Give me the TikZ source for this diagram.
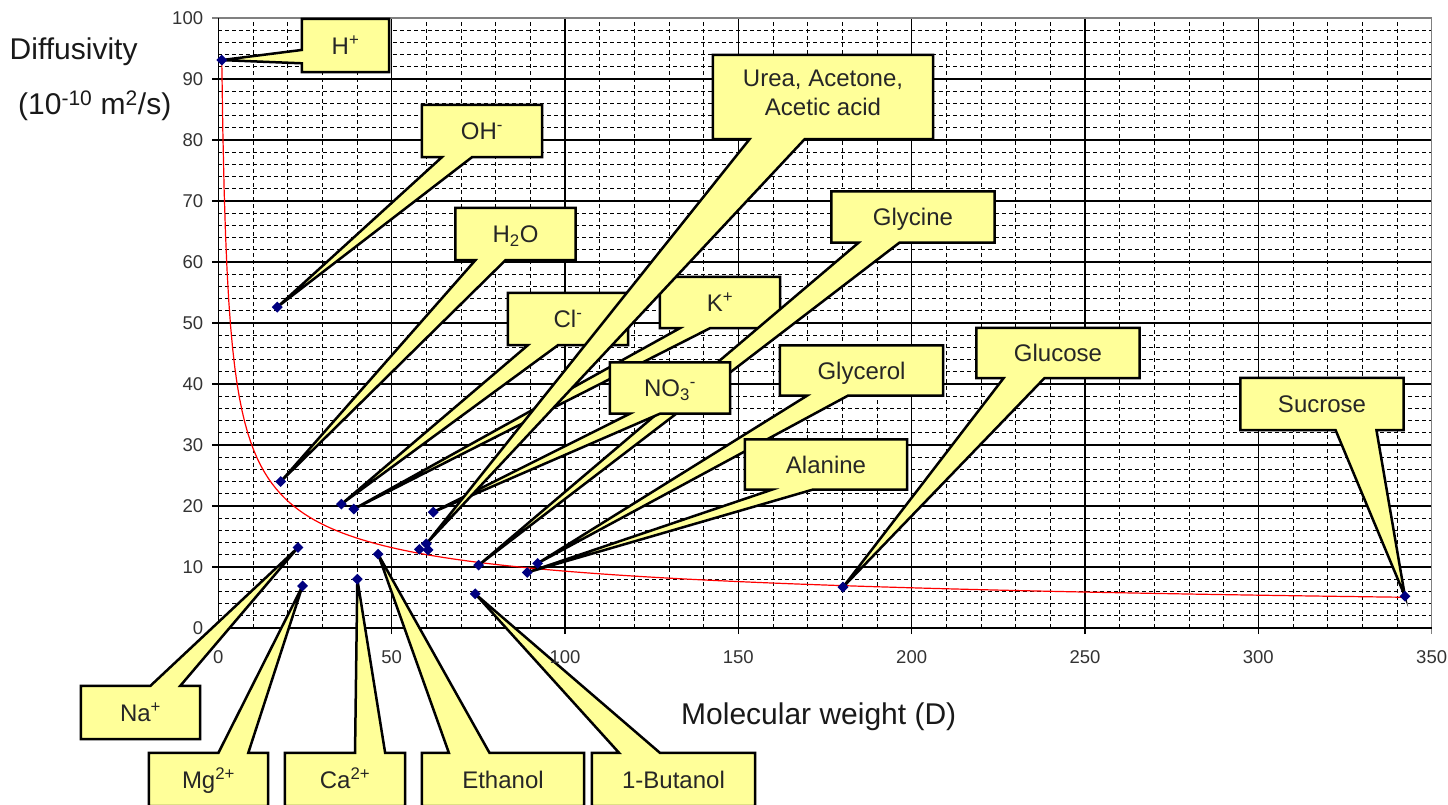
\documentclass[tikz,border=0pt]{standalone}
\usepackage{fontspec}
\setmainfont{Liberation Sans}
\usetikzlibrary{shapes,calc}

\definecolor{calloutyellow}{RGB}{255,255,153}
\definecolor{markerblue}{RGB}{0,0,128}
\definecolor{framegrey}{RGB}{128,128,128}

\pgfdeclarelayer{gridlayer}
\pgfdeclarelayer{boxlayer}
\pgfsetlayers{gridlayer,boxlayer,main}

\tikzstyle{major} = [black, line width=1.2pt]
\tikzstyle{minor} = [black, line width=0.9pt, dash pattern=on 4pt off 3pt]
\tikzstyle{frame} = [framegrey, line width=1.2pt]
\tikzstyle{curve} = [red, line width=1.2pt]
\tikzstyle{marker} = [diamond, fill=markerblue, inner sep=0pt, minimum size=11pt]
\tikzstyle{ticklabel} = [inner sep=0pt, text=black!80, font=\fontsize{18.5}{22}\selectfont]
\tikzstyle{axistitle} = [inner sep=0pt, text=black!90, font=\fontsize{30}{36}\selectfont]
\tikzstyle{boxtext} = [inner sep=0pt, minimum width=120pt, minimum height=52pt, text height=17.2pt, text depth=0pt, text=black!85, font=\fontsize{24}{29}\selectfont]
\tikzstyle{wedgebox} = [draw=black, fill=calloutyellow, line width=2.5pt, line join=miter]

% box, first corner, second corner, tip, start of the wedge base
\newcommand{\wedgecallout}[5]{%
  \draw[wedgebox] (#1.#2) -- ($(#1.#2)!#5!(#1.#3)$) -- (#4)
    -- ($(#1.#2)!#5+0.25!(#1.#3)$) -- (#1.#3)
    -- ($(#1.#2)!2!(#1.center)$) -- ($(#1.#3)!2!(#1.center)$) -- cycle;}

\begin{document}
\begin{tikzpicture}[x=1pt, y=-1pt]
\useasboundingbox (0,0) rectangle (1448,805);

% plot area in data units
\begin{scope}[shift={(218.3,628)}, x=3.4667pt, y=6.1pt]
  \begin{pgfonlayer}{gridlayer}
    \foreach \y in {2,4,...,98} \draw[minor] (0,\y) -- (350,\y);
    \foreach \x in {10,20,...,340} \draw[minor] (\x,0) -- (\x,100);
    \foreach \y in {10,20,...,90} \draw[major] ([xshift=-6pt]0,\y) -- (350,\y);
    \foreach \x in {50,100,...,300} \draw[major] ([yshift=-6pt]\x,0) -- (\x,100);
    \draw[frame] ([xshift=-6pt]0,100) -- (350,100) -- ([yshift=-6pt]350,0);
    \draw[major] ([xshift=-6pt]0,0) -- (350,0);
    \draw[major] ([yshift=-6pt]0,0) -- (0,100);
    \draw[curve] plot[domain=1:18.5, samples=120] ({\x*\x}, {93.2/\x});
  \end{pgfonlayer}

  \foreach \y in {0,10,...,100} \node[ticklabel, anchor=east, xshift=-15pt] at (0,\y) {\y};
  \foreach \x in {0,50,...,350} \node[ticklabel, anchor=north, yshift=-22pt] at (\x,0) {\x};

  \coordinate (ptH) at (1,93.1);
  \coordinate (ptOH) at (17,52.6);
  \coordinate (ptWater) at (18,24);
  \coordinate (ptNa) at (23,13.2);
  \coordinate (ptMg) at (24.3,6.9);
  \coordinate (ptCl) at (35.5,20.3);
  \coordinate (ptK) at (39.1,19.5);
  \coordinate (ptCa) at (40.1,8);
  \coordinate (ptEthanol) at (46.1,12.1);
  \coordinate (ptAcetone) at (58,12.9);
  \coordinate (ptUrea) at (60,13.8);
  \coordinate (ptAcetic) at (60.5,12.8);
  \coordinate (ptNO3) at (62,19);
  \coordinate (ptButanol) at (74.1,5.6);
  \coordinate (ptGlycine) at (75.1,10.3);
  \coordinate (ptAlanine) at (89.1,9.1);
  \coordinate (ptGlycerol) at (92.1,10.6);
  \coordinate (ptGlucose) at (180.2,6.7);
  \coordinate (ptSucrose) at (342.3,5.2);
  \foreach \p in {ptH,ptOH,ptWater,ptNa,ptMg,ptCl,ptK,ptCa,ptEthanol,ptAcetone,ptUrea,ptAcetic,ptNO3,ptButanol,ptGlycine,ptAlanine,ptGlycerol,ptGlucose,ptSucrose}
    \node[marker] at (\p) {};
\end{scope}

% axis titles
\node[axistitle, anchor=base west] (ytitle) at (9.5,60) {Diffusivity};
\node[axistitle, anchor=base west] (yunit) at (18,115) {(10\textsuperscript{-10} m\textsuperscript{2}/s)};
\node[axistitle, anchor=base west] (xtitle) at (681,724) {Molecular weight (D)};

% callout texts
\node[boxtext, minimum width=87pt, minimum height=53pt] (hplus) at (345.5,45.5) {H\textsuperscript{+}};
\node[boxtext] (ohminus) at (482,131) {OH\textsuperscript{-}};
\node[boxtext] (water) at (515.5,234) {H\textsubscript{2}O};
\node[boxtext] (clminus) at (568,319) {Cl\textsuperscript{-}};
\node[boxtext, minimum height=51pt] (kplus) at (720,302.5) {K\textsuperscript{+}};
\node[boxtext, minimum height=51pt] (nitrate) at (670,388) {NO\textsubscript{3}\textsuperscript{-}};
\node[boxtext, minimum width=220pt, minimum height=84pt, align=center, text height=46.2pt, text depth=8.6pt] (urea) at (823,97) {Urea, Acetone,\\Acetic acid};
\node[boxtext, minimum width=163pt, minimum height=51pt] (glycine) at (913,217) {Glycine};
\node[boxtext, minimum width=163pt, minimum height=50pt] (glycerol) at (861.5,370.5) {Glycerol};
\node[boxtext, minimum width=162pt, minimum height=50pt] (alanine) at (826,464.5) {Alanine};
\node[boxtext, minimum width=163pt, minimum height=50pt] (glucose) at (1058,353) {Glucose};
\node[boxtext, minimum width=163pt] (sucrose) at (1322,404) {Sucrose};
\node[boxtext, minimum width=119pt, minimum height=53pt] (naplus) at (140.5,712.5) {Na\textsuperscript{+}};
\node[boxtext, minimum width=119pt, minimum height=53pt] (mgion) at (208.5,779.5) {Mg\textsuperscript{2+}};
\node[boxtext, minimum height=53pt] (caion) at (345,779.5) {Ca\textsuperscript{2+}};
\node[boxtext, minimum width=162pt, minimum height=53pt] (ethanol) at (503,779.5) {Ethanol};
\node[boxtext, minimum width=163pt, minimum height=53pt] (butanol) at (673.5,779.5) {1-Butanol};

% callout shapes, below the texts
\begin{pgfonlayer}{boxlayer}
  \wedgecallout{hplus}{north west}{south west}{ptH}{7/12}
  \wedgecallout{ohminus}{south west}{south east}{ptOH}{2/12}
  \wedgecallout{water}{south west}{south east}{ptWater}{2/12}
  \wedgecallout{naplus}{north west}{north east}{ptNa}{7/12}
  \wedgecallout{mgion}{north west}{north east}{ptMg}{7/12}
  \wedgecallout{caion}{north west}{north east}{ptCa}{7/12}
  \wedgecallout{ethanol}{north west}{north east}{ptEthanol}{2/12}
  \wedgecallout{butanol}{north west}{north east}{ptButanol}{2/12}
  \wedgecallout{clminus}{south west}{south east}{ptCl}{2/12}
  \wedgecallout{kplus}{south west}{south east}{ptK}{2/12}
  \wedgecallout{glycine}{south west}{south east}{ptGlycine}{2/12}
  \wedgecallout{nitrate}{south west}{south east}{ptNO3}{2/12}
  \wedgecallout{glycerol}{south west}{south east}{ptGlycerol}{2/12}
  \wedgecallout{alanine}{south west}{south east}{ptAlanine}{2/12}
  \wedgecallout{glucose}{south west}{south east}{ptGlucose}{2/12}
  \wedgecallout{sucrose}{south west}{south east}{ptSucrose}{7/12}
  \wedgecallout{urea}{south west}{south east}{ptUrea}{2/12}
\end{pgfonlayer}
\end{tikzpicture}
\end{document}
